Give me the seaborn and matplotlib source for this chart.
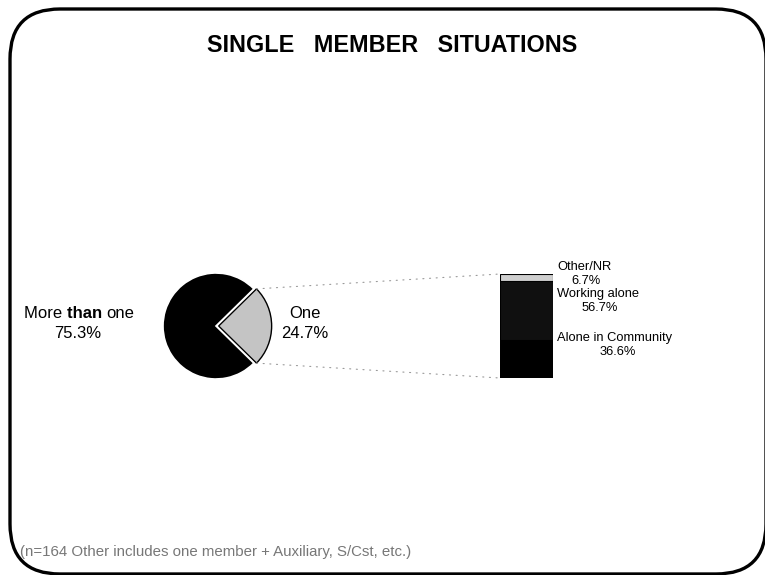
import numpy as np
import seaborn as sns
import matplotlib.pyplot as plt
from matplotlib.patches import FancyBboxPatch, ConnectionPatch

# chart data
pie_labels = ["One", "More than one"]
pie_values = [24.7, 75.3]
bar_labels = ["Alone in Community", "Working alone", "Other/NR"]
bar_values = [36.6, 56.7, 6.7]
title = "SINGLE   MEMBER   SITUATIONS"
footnote = "(n=164 Other includes one member + Auxiliary, S/Cst, etc.)"

sns.set_theme(style="white")
plt.rcParams['font.family'] = ['Liberation Sans', 'DejaVu Sans']
plt.rcParams['text.color'] = 'black'

W, H = 765, 575
fig = plt.figure(figsize=(W / 100, H / 100), dpi=100)
fig.patch.set_facecolor("white")

# background axes in pixel coordinates
bg = fig.add_axes([0, 0, 1, 1])
bg.set_xlim(0, W)
bg.set_ylim(H, 0)
bg.axis("off")

box = FancyBboxPatch((10, 9), 756, 565, boxstyle="round,pad=0,rounding_size=50",
                     fill=False, edgecolor="black", linewidth=2.4, clip_on=False)
bg.add_patch(box)

bg.text(392, 45, title, ha="center", va="center", fontsize=16.8, fontweight="bold")
bg.text(20, 552, footnote, ha="left", va="center", fontsize=10.8, color="#777777")


def px_axes(cx, cy, w, h):
    return fig.add_axes([(cx - w / 2) / W, 1 - (cy + h / 2) / H, w / W, h / H])


# pie
pie_r = 53
pax = px_axes(216, 326, 140, 140)
lim = 70 / pie_r
wedges, _ = pax.pie(pie_values, startangle=-pie_values[0] / 100 * 180,
                    explode=[0.05, 0], colors=["#c4c4c4", "black"],
                    wedgeprops=dict(linewidth=1.2, edgecolor="white"))
wedges[0].set_edgecolor("black")
wedges[0].set_linewidth(1.0)
pax.set_xlim(-lim, lim)
pax.set_ylim(-lim, lim)
pax.set_aspect("equal")
pax.axis("off")

# stacked bar of the "One" slice
bax = px_axes(526.5, 326, 53, 104)
cum = np.cumsum(bar_values)
bar_colors = ["black", "#101010", "#cfcfcf"]
for total, color in zip(cum[::-1], bar_colors[::-1]):
    sns.barplot(x=[0], y=[total], color=color, width=1.0, ax=bax,
                saturation=1, edgecolor="black", linewidth=0.8)
bax.set_xlim(-0.5, 0.5)
bax.set_ylim(0, 100)
bax.axis("off")

# dotted connectors from the slice corners to the bar
w0 = wedges[0]
cx, cy = w0.center
for ang, ybar in [(w0.theta2, 100), (w0.theta1, 0)]:
    a = np.deg2rad(ang)
    con = ConnectionPatch(xyA=(cx + np.cos(a), cy + np.sin(a)),
                          coordsA=pax.transData, xyB=(-0.5, ybar),
                          coordsB=bax.transData, color="#999999",
                          linestyle=(0, (1, 5)), linewidth=0.8)
    fig.add_artist(con)

# pie labels
bg.text(305, 314, pie_labels[0], ha="center", va="center", fontsize=12)
bg.text(305, 334, f"{pie_values[0]}%", ha="center", va="center", fontsize=12)
t1 = bg.text(24, 314, "More ", ha="left", va="center", fontsize=12,
             family=['Liberation Sans Narrow', 'Liberation Sans'])
t2 = bg.annotate("than ", xy=(1, 0.5), xycoords=t1, va="center", ha="left",
                 fontsize=12, fontweight="bold")
bg.annotate("one", xy=(1, 0.5), xycoords=t2, va="center", ha="left", fontsize=12)
bg.text(78, 334, f"{pie_values[1]}%", ha="center", va="center", fontsize=12)

# bar labels
bg.text(557, 267, bar_labels[2], ha="left", va="center", fontsize=9.3)
bg.text(586, 281, f"{bar_values[2]}%", ha="center", va="center", fontsize=9.3)
bg.text(557, 294, bar_labels[1], ha="left", va="center", fontsize=9.3)
bg.text(600, 308, f"{bar_values[1]}%", ha="center", va="center", fontsize=9.3)
bg.text(557, 338, bar_labels[0], ha="left", va="center", fontsize=9.3)
bg.text(618, 352, f"{bar_values[0]}%", ha="center", va="center", fontsize=9.3)

fig.savefig("out.png", dpi=100)
